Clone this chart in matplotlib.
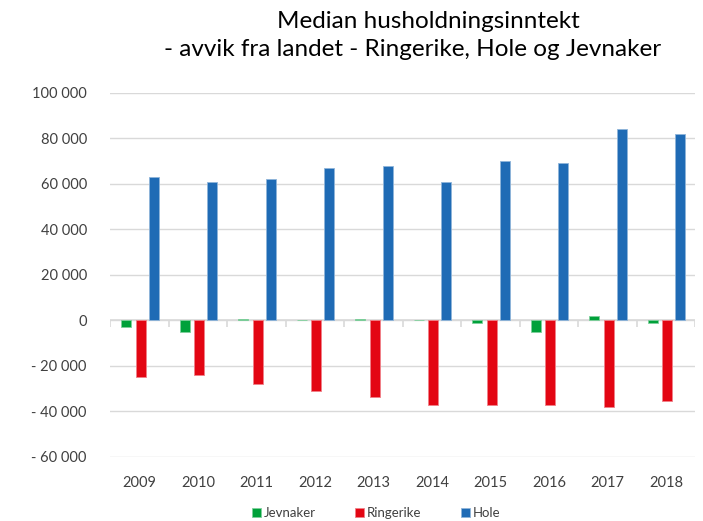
import numpy as np
import matplotlib.pyplot as plt
from matplotlib.ticker import FuncFormatter

years = ["2009", "2010", "2011", "2012", "2013", "2014", "2015", "2016", "2017", "2018"]
jevnaker = [-3000, -5000, 800, 0, 600, 0, -1000, -5000, 2000, -1000]
ringerike = [-25000, -24000, -28000, -31000, -33500, -37000, -37000, -37000, -38000, -35500]
hole = [63000, 61000, 62000, 67000, 68000, 61000, 70000, 69000, 84000, 82000]

plt.rcParams['font.family'] = ['Lato', 'DejaVu Sans']
txt = "#404040"

fig = plt.figure(figsize=(7.03, 5.21), dpi=100)
ax = fig.add_axes([0.157, 0.123, 0.832, 0.699])

x = np.arange(len(years))
w = 0.17
off = 0.225
ax.bar(x - off, jevnaker, w, color="#00A13A", edgecolor="#7fd09c", linewidth=0.6, label="Jevnaker", zorder=3)
ax.bar(x + 0.02, ringerike, w, color="#E30613", edgecolor="#f08088", linewidth=0.6, label="Ringerike", zorder=3)
ax.bar(x + off + 0.02, hole, w, color="#1F6BB5", edgecolor="#8fb5da", linewidth=0.6, label="Hole", zorder=3)

ax.set_ylim(-60000, 100000)
ax.set_xlim(-0.5, len(years) - 0.5)
ax.set_yticks(np.arange(-60000, 100001, 20000))
ax.yaxis.set_major_formatter(FuncFormatter(
    lambda v, p: ("- " if v < 0 else "") + f"{abs(int(v)):,}".replace(",", " ")))
ax.grid(axis="y", color="#d9d9d9", linewidth=1, zorder=0)
ax.axhline(0, color="#d9d9d9", linewidth=1.2, zorder=2)
ax.vlines(np.arange(len(years) + 1) - 0.5, -3000, 0, color="#d9d9d9", linewidth=1.2, zorder=2)

ax.set_xticks(x)
ax.set_xticklabels(years)
ax.tick_params(axis="both", length=0, labelsize=10.5, colors=txt)
ax.tick_params(axis="x", pad=14)
ax.tick_params(axis="y", pad=17)
for s in ax.spines.values():
    s.set_visible(False)

fig.text(0.61, 0.958, "Median husholdningsinntekt", ha="center", va="center", fontsize=17.5, color="black")
fig.text(0.587, 0.905, "- avvik fra landet - Ringerike, Hole og Jevnaker", ha="center", va="center", fontsize=17.5, color="black")

fig.legend(loc="center", bbox_to_anchor=(0.535, 0.015), ncol=3, frameon=False, fontsize=9.5,
           handlelength=0.7, handleheight=0.7, handletextpad=0.2, columnspacing=3.0, labelcolor=txt)

fig.savefig("out.png", dpi=100)
